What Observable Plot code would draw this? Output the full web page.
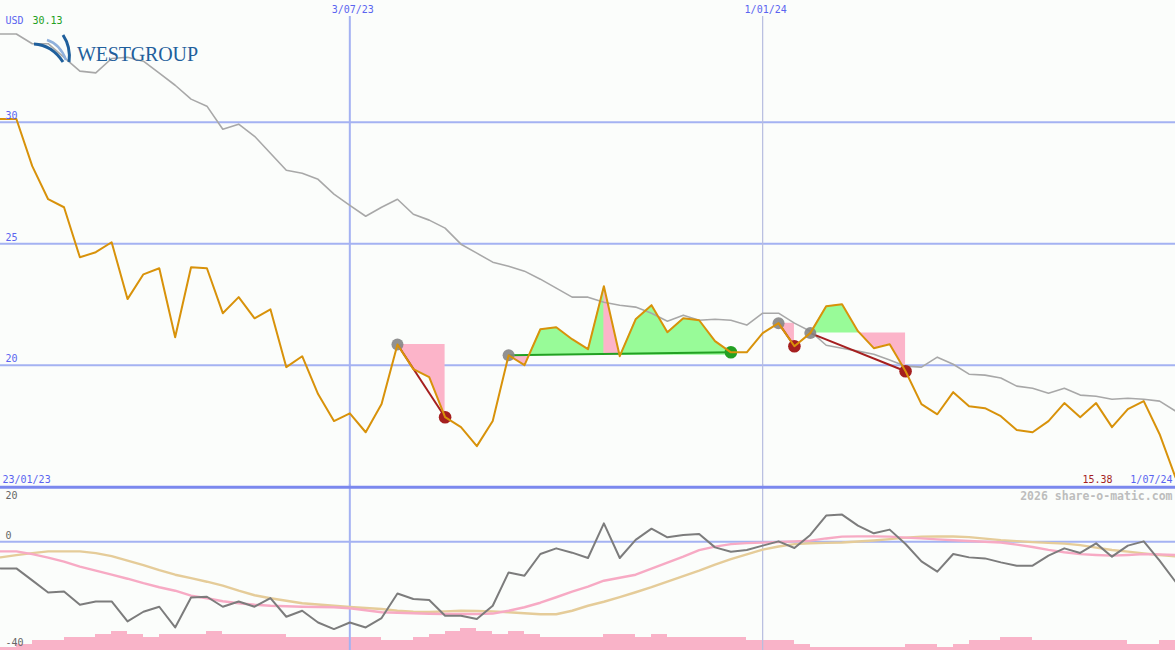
<!DOCTYPE html>
<html><head><meta charset="utf-8">
<script src="https://cdn.jsdelivr.net/npm/d3@7"></script>
<script src="https://cdn.jsdelivr.net/npm/@observablehq/plot@0.6"></script>
<style>
html,body{margin:0;padding:0;background:#fbfdfb;}
#chart{position:relative;width:1175px;height:650px;overflow:hidden;background:#fbfdfb;}
#chart svg{position:absolute;left:0;}
</style></head><body><div id="chart"></div>
<script>
// ---------- data (weekly, first week 2023-01-30) ----------
const firstWeek = "2023-01-30";
const price = [30.13, 30.13, 28.19, 26.83, 26.50, 24.44, 24.65, 25.06, 22.72, 23.74,
  23.99, 21.15, 24.03, 23.99, 22.14, 22.80, 21.93, 22.30, 19.92, 20.37,
  18.81, 17.70, 18.02, 17.24, 18.40, 20.85, 19.84, 19.51, 17.86, 17.45,
  16.67, 17.70, 20.41, 20.00, 21.48, 21.56, 21.07, 20.66, 23.25, 20.37,
  21.89, 22.47, 21.36, 21.93, 21.85, 20.99, 20.53, 20.53, 21.32, 21.73,
  20.78, 21.32, 22.43, 22.51, 21.40, 20.70, 20.86, 19.75, 18.40, 17.98,
  18.89, 18.31, 18.23, 17.90, 17.33, 17.24, 17.70, 18.44, 17.86, 18.44,
  17.45, 18.19, 18.52, 17.16, 15.38];
const priceAvg = [33.63, 33.63, 33.23, 33.23, 32.67, 32.10, 32.03, 32.62, 32.67, 32.51,
  32.02, 31.52, 30.95, 30.66, 29.71, 29.92, 29.42, 28.72, 28.02, 27.90,
  27.65, 27.04, 26.58, 26.13, 26.50, 26.83, 26.21, 25.97, 25.64, 24.98,
  24.61, 24.24, 24.07, 23.87, 23.54, 23.17, 22.80, 22.80, 22.59, 22.47,
  22.39, 22.14, 21.81, 22.06, 21.85, 21.89, 21.85, 21.65, 22.14, 22.14,
  21.73, 21.40, 20.82, 20.70, 20.58, 20.45, 20.21, 19.96, 19.92, 20.33,
  20.04, 19.63, 19.59, 19.47, 19.14, 19.05, 18.85, 19.05, 18.77, 18.72,
  18.60, 18.64, 18.60, 18.52, 18.11];
const oscillator = [-9.83, -9.83, -14.24, -18.66, -18.29, -23.19, -21.97, -21.97, -29.33, -25.76,
  -23.92, -31.54, -20.50, -20.24, -23.92, -21.97, -23.92, -20.72, -27.60, -25.40,
  -29.70, -32.13, -29.70, -31.54, -28.08, -19.03, -21.09, -21.46, -27.24, -27.24,
  -28.45, -23.56, -11.30, -12.51, -4.53, -2.47, -4.05, -6.00, 6.74, -6.00,
  0.63, 4.78, 1.58, 2.47, 2.83, -2.10, -3.68, -3.05, -1.47, 0.11,
  -2.32, 2.47, 9.57, 9.94, 5.89, 3.05, 4.42, -0.85, -7.25, -11.04,
  -4.53, -5.78, -6.15, -7.62, -8.83, -8.83, -5.15, -2.47, -4.16, -0.63,
  -5.52, -1.47, 0.11, -6.99, -14.72];
const oscSignal = [-3.57, -3.57, -4.60, -5.89, -7.36, -9.20, -10.67, -12.15, -13.62, -15.27,
  -16.75, -18.03, -19.87, -20.79, -21.90, -22.64, -23.19, -23.56, -23.74, -23.92,
  -24.00, -24.11, -24.48, -25.21, -25.95, -26.13, -26.32, -26.50, -26.61, -26.61,
  -26.61, -26.43, -25.40, -24.11, -22.45, -20.43, -18.40, -16.56, -14.35, -13.25,
  -12.15, -9.94, -7.73, -5.52, -3.13, -1.84, -0.92, -0.55, -0.37, -0.11,
  0.11, 0.37, 1.18, 1.84, 1.95, 1.95, 1.84, 1.47, 1.21, 0.85,
  0.52, 0.22, -0.04, -0.29, -1.10, -1.95, -3.02, -3.90, -4.60, -4.90,
  -5.15, -4.90, -4.60, -4.67, -4.90];
const oscSlow = [-5.78, -4.97, -4.23, -3.57, -3.57, -3.57, -4.23, -5.34, -6.99, -8.65,
  -10.49, -12.15, -13.43, -14.72, -16.19, -18.03, -19.69, -20.79, -21.71, -22.64,
  -23.11, -23.56, -24.00, -24.40, -24.77, -25.40, -25.76, -25.87, -25.62, -25.40,
  -25.51, -25.62, -25.95, -26.32, -26.68, -26.68, -25.40, -23.56, -22.08, -20.35,
  -18.59, -16.75, -14.72, -12.70, -10.67, -8.47, -6.44, -4.71, -2.94, -1.77,
  -0.92, -0.59, -0.44, -0.29, 0.07, 0.44, 0.92, 1.47, 1.84, 1.88,
  1.91, 1.66, 1.10, 0.55, 0.18, -0.18, -0.44, -0.74, -1.29, -2.21,
  -3.05, -3.68, -4.31, -4.90, -5.41];
const volumeLevel = [1, 2, 3, 3, 4, 4, 5, 6, 5, 4,
  5, 5, 5, 6, 5, 5, 5, 5, 4, 4,
  4, 4, 4, 4, 3, 3, 4, 5, 6, 7,
  6, 5, 6, 5, 4, 4, 4, 4, 5, 5,
  4, 5, 4, 4, 4, 4, 4, 3, 3, 3,
  2, 1, 1, 1, 1, 1, 1, 2, 2, 1,
  2, 3, 3, 4, 4, 3, 3, 3, 3, 3,
  3, 2, 2, 3];
// patterns: start week index, end week index, outcome
const patternStart = [25, 32, 49, 51];
const patternEnd = [28, 46, 50, 57];
const patternOutcome = ["down", "up", "down", "down"];
const fallLegs = [38]; // leg (week 38 -> 39) shaded as a fall inside pattern 2
// ticks & labels
const priceTicks = [20, 25, 30];
const oscTicks = [20, 0, -40];
const gridDates = ["2023-07-03", "2024-01-01"];
const gridDateLabels = ["3/07/23", "1/01/24"];
const rangeLabels = ["23/01/23", "1/07/24"];
const currency = "USD";
const watermark = "2026 share-o-matic.com";

// ---------- styling ----------
const BLUE = "#5a64f0", GRID = "#a4b2f2", SEP = "#7b88ee";
const FONT = '"DejaVu Sans Mono", monospace';

// ---------- derived ----------
const DAY = 864e5;
const t0 = new Date(firstWeek + "T00:00:00Z").getTime();
const dates = price.map((_, i) => new Date(t0 + i * 7 * DAY));
const xDomain = [dates[0], dates[dates.length - 1]];
const gDates = gridDates.map(s => new Date(s + "T00:00:00Z"));

function patternRows(p) {
  const s = patternStart[p], e = patternEnd[p], base = price[s];
  const rows = [];
  for (let i = s; i <= e; i++) {
    rows.push({x: dates[i], v: price[i], base, p});
    if (i < e) {
      const a = price[i] - base, b = price[i + 1] - base;
      if (a * b < 0) {
        const t = a / (a - b);
        rows.push({x: new Date(+dates[i] + t * (dates[i + 1] - dates[i])), v: base, base, p});
      }
    }
  }
  return rows;
}
const areaRows = patternStart.flatMap((_, p) => patternRows(p));
const fallRows = fallLegs.flatMap((i, k) => {
  const p = patternStart.findIndex((s, j) => s <= i && patternEnd[j] >= i + 1);
  const base = price[patternStart[p]];
  return [{x: dates[i], v: price[i], base, k}, {x: dates[i + 1], v: price[i + 1], base, k}];
});
const links = patternStart.map((s, p) => ({
  x1: dates[s], y1: price[s], x2: dates[patternEnd[p]], y2: price[patternEnd[p]], o: patternOutcome[p]
}));
const outColor = o => o === "up" ? "#22a022" : "#a51f1f";

const series = price.map((v, i) => ({x: dates[i], price: v, avg: priceAvg[i],
  osc: oscillator[i], sig: oscSignal[i], slow: oscSlow[i]}));
const vol = volumeLevel.map((v, i) => ({x1: dates[i], x2: dates[i + 1], v}));

const label = (data, opts) => Plot.text(data, {lineAnchor: "middle", fontSize: 10, text: d => d, ...opts});

// ---------- top panel ----------
const topPlot = Plot.plot({
  width: 1175, height: 487, margin: 0,
  style: {background: "transparent", fontFamily: FONT, fontSize: "10px"},
  x: {type: "utc", domain: xDomain, axis: null},
  y: {domain: [14.967, 35.008], axis: null},
  marks: [
    Plot.ruleY(priceTicks, {stroke: GRID, strokeWidth: 2}),
    Plot.ruleX([gDates[0]], {stroke: GRID, strokeWidth: 2, insetTop: 16}),
    Plot.ruleX([gDates[1]], {stroke: "#b6bde0", strokeWidth: 1.2, insetTop: 16}),
    Plot.areaY(areaRows, {x: "x", y1: "base", y2: d => Math.max(d.v, d.base), z: "p", fill: "#98fb98", curve: "linear"}),
    Plot.areaY(areaRows, {x: "x", y1: "base", y2: d => Math.min(d.v, d.base), z: "p", fill: "#fcb4c9", curve: "linear"}),
    Plot.areaY(fallRows, {x: "x", y1: "base", y2: "v", z: "k", fill: "#fcb4c9", curve: "linear"}),
    Plot.line(series, {x: "x", y: "avg", stroke: "#a8a8a8", strokeWidth: 1.6}),
    Plot.link(links, {x1: "x1", y1: "y1", x2: "x2", y2: "y2", stroke: d => outColor(d.o), strokeWidth: 2}),
    Plot.dot(links, {x: "x1", y: "y1", r: 6, fill: "#858585", fillOpacity: 0.9}),
    Plot.dot(links, {x: "x2", y: "y2", r: 6.3, fill: d => outColor(d.o)}),
    Plot.line(series, {x: "x", y: "price", stroke: "#d8920a", strokeWidth: 2}),
    label(priceTicks, {frameAnchor: "left", y: d => d, text: d => String(d), dx: 5, dy: -6, textAnchor: "start", fill: BLUE}),
    label(gDates, {x: d => d, frameAnchor: "top", dy: 9, dx: 3, text: (d, i) => gridDateLabels[i], fill: BLUE}),
    label([rangeLabels[0]], {frameAnchor: "bottom-left", dx: 2, dy: -8, textAnchor: "start", fill: BLUE}),
    label([rangeLabels[1]], {frameAnchor: "bottom-right", dx: -3, dy: -8, textAnchor: "end", fill: BLUE}),
    label([price[price.length - 1]], {frameAnchor: "bottom-right", dx: -63, dy: -8, textAnchor: "end", text: d => d3.format(".2f")(d), fill: "#a51f1f"}),
    label([currency], {frameAnchor: "top-left", dx: 5, dy: 20, textAnchor: "start", fill: BLUE}),
    label([d3.max(price)], {frameAnchor: "top-left", dx: 32, dy: 20, textAnchor: "start", text: d => d3.format(".2f")(d), fill: "#22a022"})
  ]
});
topPlot.style.top = "0px";

// ---------- bottom panel ----------
const botPlot = Plot.plot({
  width: 1175, height: 166, margin: 0,
  style: {background: "transparent", fontFamily: FONT, fontSize: "10px"},
  x: {type: "utc", domain: xDomain, axis: null},
  y: {domain: [-40, 21], axis: null},
  marks: [
    Plot.rect(vol, {x1: "x1", x2: "x2", y1: () => -40, y2: d => -40 + d.v * 1.176, fill: "#f9b3c8", shapeRendering: "crispEdges"}),
    Plot.ruleX([gDates[0]], {stroke: GRID, strokeWidth: 2}),
    Plot.ruleX([gDates[1]], {stroke: "#b6bde0", strokeWidth: 1.2}),
    Plot.ruleY([0], {stroke: GRID, strokeWidth: 2}),
    Plot.ruleY([20], {stroke: SEP, strokeWidth: 3}),
    Plot.line(series, {x: "x", y: "slow", stroke: "#e5cc99", strokeWidth: 2.4}),
    Plot.line(series, {x: "x", y: "sig", stroke: "#f7aac4", strokeWidth: 2.4}),
    Plot.line(series, {x: "x", y: "osc", stroke: "#7c7c7c", strokeWidth: 2}),
    ...oscTicks.map(t => label([t], {frameAnchor: "left", y: d => d, text: d => String(d), dx: 5,
      dy: t === d3.max(oscTicks) ? 9 : (t === d3.min(oscTicks) ? -8 : -6), textAnchor: "start", fill: "#666"})),
    label([watermark], {frameAnchor: "top-right", dx: -3, dy: 12, textAnchor: "end", fill: "#bdbdbd", fontWeight: "bold", fontSize: 11.5})
  ]
});
botPlot.style.top = "484px";

const chart = document.getElementById("chart");
chart.appendChild(topPlot);
chart.appendChild(botPlot);

// ---------- logo ----------
const logo = d3.select(chart).append("svg").attr("width", 210).attr("height", 80)
  .style("left", "0px").style("top", "0px");
logo.append("path").attr("d", "M34,44 Q52,45 63,62").attr("fill", "none").attr("stroke", "#1f5f9c").attr("stroke-width", 3);
logo.append("path").attr("d", "M47,40 Q60,44 66,60").attr("fill", "none").attr("stroke", "#8fb0dc").attr("stroke-width", 2.5);
logo.append("path").attr("d", "M63,35 Q71,47 69,62").attr("fill", "none").attr("stroke", "#1f5f9c").attr("stroke-width", 3);
logo.append("text").attr("x", 77).attr("y", 61).attr("textLength", 121)
  .attr("font-family", '"Liberation Serif", serif').attr("font-size", 20)
  .attr("fill", "#1f5f9c").text("WESTGROUP");
</script></body></html>
